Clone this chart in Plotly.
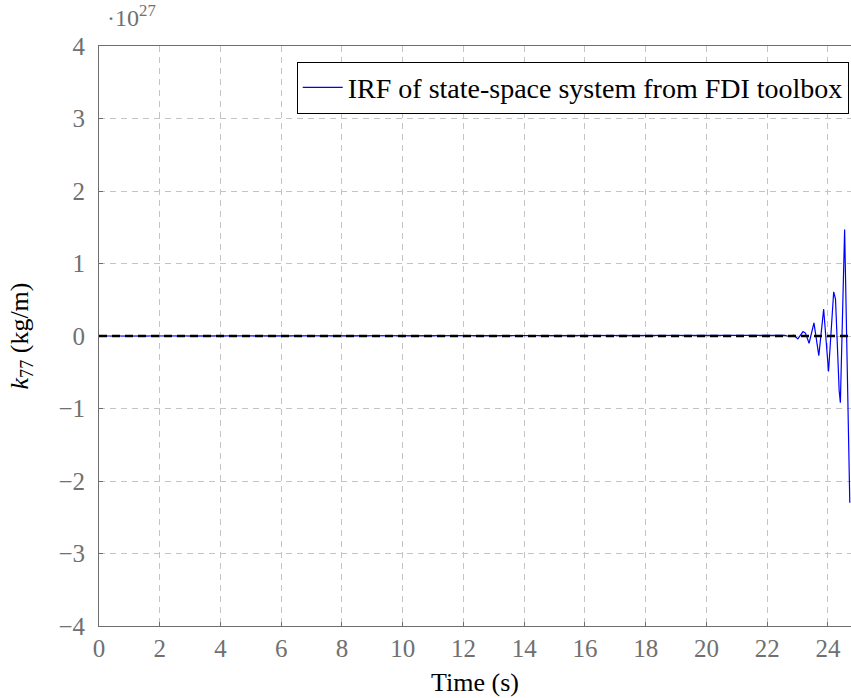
import plotly.graph_objects as go

# Impulse response function k77, in units of 1e27 kg/m
time_s = [0.0, 22.20, 22.41, 22.58, 22.74, 22.87, 23.01, 23.18, 23.26, 23.38,
          23.54, 23.70, 23.86, 24.02, 24.19, 24.25, 24.37, 24.41, 24.55, 24.72]
k77_e27 = [0.0, 0.0, 0.01, 0.01, -0.01, 0.01, -0.04, 0.06, 0.04, -0.10,
           0.18, -0.27, 0.37, -0.49, 0.61, 0.51, -0.75, -0.92, 1.47, -2.30]

x_ticks = list(range(0, 25, 2))
y_ticks = list(range(-4, 5))

FONT = "Liberation Serif"
GRID = "#c4c4c4"
AXIS = "#6e6e6e"
TICKFONT = dict(family=FONT, size=25, color="#707070")

fig = go.Figure()
fig.add_trace(go.Scatter(
    x=time_s, y=k77_e27, mode="lines",
    line=dict(color="#0000ff", width=1.2),
    name="IRF of state-space system from FDI toolbox",
))

fig.update_layout(
    width=851, height=698,
    margin=dict(l=99, r=0, t=46, b=72),
    paper_bgcolor="white", plot_bgcolor="white",
    font=dict(family=FONT, size=26, color="black"),
    showlegend=True,
    legend=dict(
        x=0.997, y=0.973, xanchor="right", yanchor="top",
        bordercolor="black", borderwidth=1, bgcolor="white",
        font=dict(family=FONT, size=28, color="black"),
        itemwidth=40, tracegroupgap=0,
    ),
    xaxis=dict(
        range=[0, 24.76], tickvals=x_ticks, ticktext=[str(v) for v in x_ticks],
        showgrid=True, gridcolor=GRID, griddash="6px,5px", gridwidth=1,
        showline=True, linecolor=AXIS, linewidth=1, mirror=True,
        ticks="inside", ticklen=4, tickcolor=AXIS,
        tickfont=TICKFONT, zeroline=False,
        title=dict(text="Time (s)", font=dict(family=FONT, size=26, color="black"), standoff=11),
    ),
    yaxis=dict(
        range=[-4, 4], tickvals=y_ticks, ticktext=[str(v).replace("-", "\u2212") for v in y_ticks],
        showgrid=True, gridcolor=GRID, griddash="6px,5px", gridwidth=1,
        showline=True, linecolor=AXIS, linewidth=1, mirror=False,
        ticks="inside", ticklen=4, tickcolor=AXIS,
        tickfont=TICKFONT, zeroline=False, ticklabelstandoff=8,
        title=dict(text="<i>k</i><sub>77</sub> (kg/m)", font=dict(family=FONT, size=26, color="black"), standoff=22),
    ),
    shapes=[dict(
        type="line", xref="paper", yref="y", x0=0, x1=1, y0=0, y1=0,
        line=dict(color="black", width=2.5, dash="8px,5px"), layer="above",
    )],
    annotations=[dict(
        text="\u00b710<sup>27</sup>", xref="paper", yref="paper",
        x=0.0, y=1.0, xanchor="left", yanchor="bottom", xshift=6, yshift=13,
        showarrow=False, font=dict(family=FONT, size=24, color="#707070"),
    )],
)

fig.write_html("out.html")
